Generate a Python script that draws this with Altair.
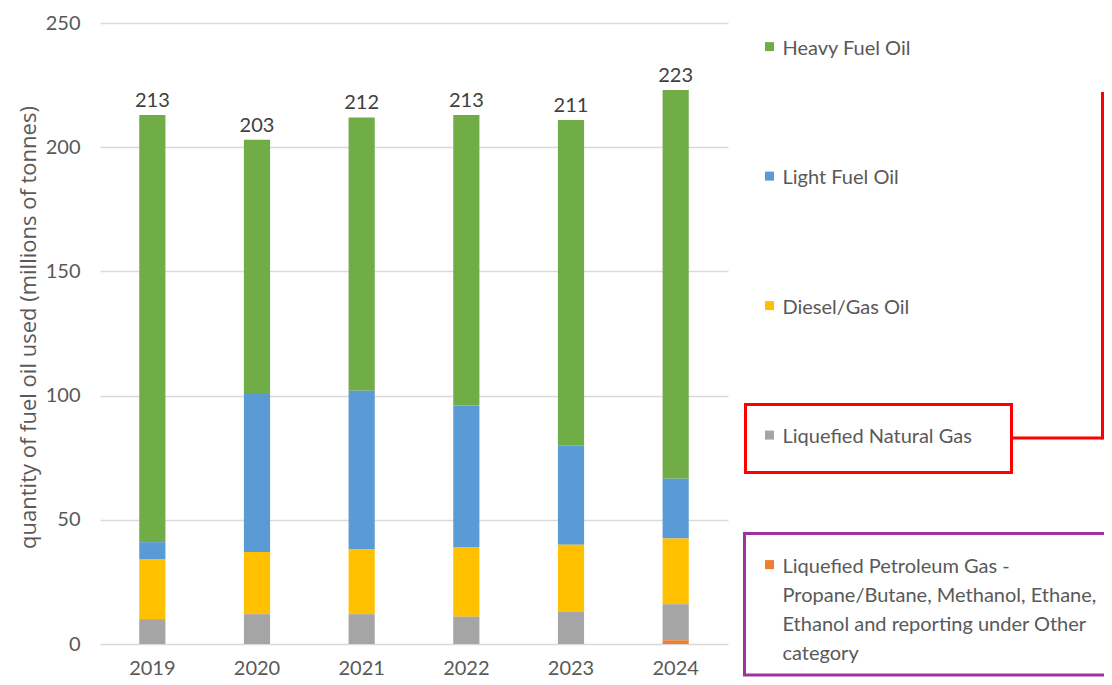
import altair as alt
import pandas as pd

years = ["2019", "2020", "2021", "2022", "2023", "2024"]
series = [
    "Heavy Fuel Oil",
    "Light Fuel Oil",
    "Diesel/Gas Oil",
    "Liquefied Natural Gas",
    "Liquefied Petroleum Gas -\nPropane/Butane, Methanol, Ethane,\nEthanol and reporting under Other\ncategory",
]
colors = ["#70AD47", "#5B9BD5", "#FFC000", "#A5A5A5", "#ED7D31"]

hfo = [172, 102, 110, 117, 131, 156.5]
lfo = [7, 64, 64, 57, 40, 24]
diesel = [24, 25, 26, 28, 27, 26.5]
lng = [10, 12, 12, 11, 13, 14.5]
lpg = [0, 0, 0, 0, 0, 1.5]
totals = [213, 203, 212, 213, 211, 223]

series_values = [hfo, lfo, diesel, lng, lpg]

rows = []
for si, (name, vals) in enumerate(zip(series, series_values)):
    for yr, v in zip(years, vals):
        rows.append({"year": yr, "fuel": name, "value": v, "stack": len(series) - si})
df = pd.DataFrame(rows)
tot_df = pd.DataFrame({"year": years, "total": totals})

FONT = "Lato"
TXT = "#595959"
W, H = 628, 621

y_scale = alt.Scale(domain=[0, 250], nice=False, zero=True)

x_enc = alt.X(
    "year:N",
    sort=years,
    scale=alt.Scale(paddingInner=0.75, paddingOuter=0.375),
    axis=alt.Axis(
        title=None, labelAngle=0, ticks=False, domain=False, labelPadding=14,
        labelFontSize=20, labelColor=TXT, labelFont=FONT,
    ),
)

y_enc = alt.Y(
    "value:Q",
    stack="zero",
    scale=y_scale,
    axis=alt.Axis(
        values=[0, 50, 100, 150, 200, 250],
        title="quantity of fuel oil used (millions of tonnes)",
        grid=True, gridColor="#D9D9D9", gridWidth=1.5,
        domain=False, ticks=False, labelPadding=20,
        labelFontSize=20, labelColor=TXT, labelFont=FONT,
        titleFontSize=22, titleColor=TXT, titleFont="Open Sans", titleFontWeight="normal",
        titleX=-72, titleY=304, titleAngle=270, titleAlign="center", titleBaseline="middle",
    ),
)

bars = alt.Chart(df).mark_bar().encode(
    x=x_enc,
    y=y_enc,
    color=alt.Color(
        "fuel:N",
        scale=alt.Scale(domain=series, range=colors),
        legend=alt.Legend(
            title=None, orient="none", legendX=659.5, legendY=5.5, padding=0,
            direction="vertical", rowPadding=99.5,
            symbolType="M-1,0.8H1V2.8H-1Z", symbolSize=81, symbolStrokeWidth=0,
            labelFontSize=20, labelColor=TXT, labelFont=FONT, labelLimit=500,
            labelOffset=3, labelBaseline="top",
            labelExpr="split(datum.label, '\\n')",
        ),
    ),
    order=alt.Order("stack:Q", sort="ascending"),
)

labels = alt.Chart(tot_df).mark_text(
    dy=-8, baseline="alphabetic", fontSize=20, color="#404040", font=FONT
).encode(
    x=alt.X("year:N", sort=years),
    y=alt.Y("total:Q", scale=y_scale),
    text=alt.Text("total:Q"),
)

one = pd.DataFrame({"a": [0]})
red_box = alt.Chart(one).mark_rect(fillOpacity=0, stroke="#FF0000", strokeWidth=3).encode(
    x=alt.value(645.5), x2=alt.value(911.5), y=alt.value(381.5), y2=alt.value(449.5)
)
red_h = alt.Chart(one).mark_rule(color="#FF0000", strokeWidth=3).encode(
    x=alt.value(911.5), x2=alt.value(1002.5), y=alt.value(415), y2=alt.value(415)
)
red_v = alt.Chart(one).mark_rule(color="#FF0000", strokeWidth=3).encode(
    x=alt.value(1002.5), x2=alt.value(1002.5), y=alt.value(69), y2=alt.value(416.5)
)
purple_box = alt.Chart(one).mark_rect(fillOpacity=0, stroke="#A0329F", strokeWidth=3).encode(
    x=alt.value(644.5), x2=alt.value(1100), y=alt.value(510.5), y2=alt.value(652)
)

chart = alt.layer(bars, labels, red_box, red_h, red_v, purple_box).properties(
    width=W,
    height=H,
    autosize=alt.AutoSizeParams(type="none"),
    padding={"left": 92, "top": 15, "right": 376, "bottom": 33},
).configure(
    font=FONT, style={"guide-label": {"lineHeight": 29}}
).configure_view(strokeWidth=0)

chart.save("out.html", embed_options={"renderer": "svg", "actions": False})
